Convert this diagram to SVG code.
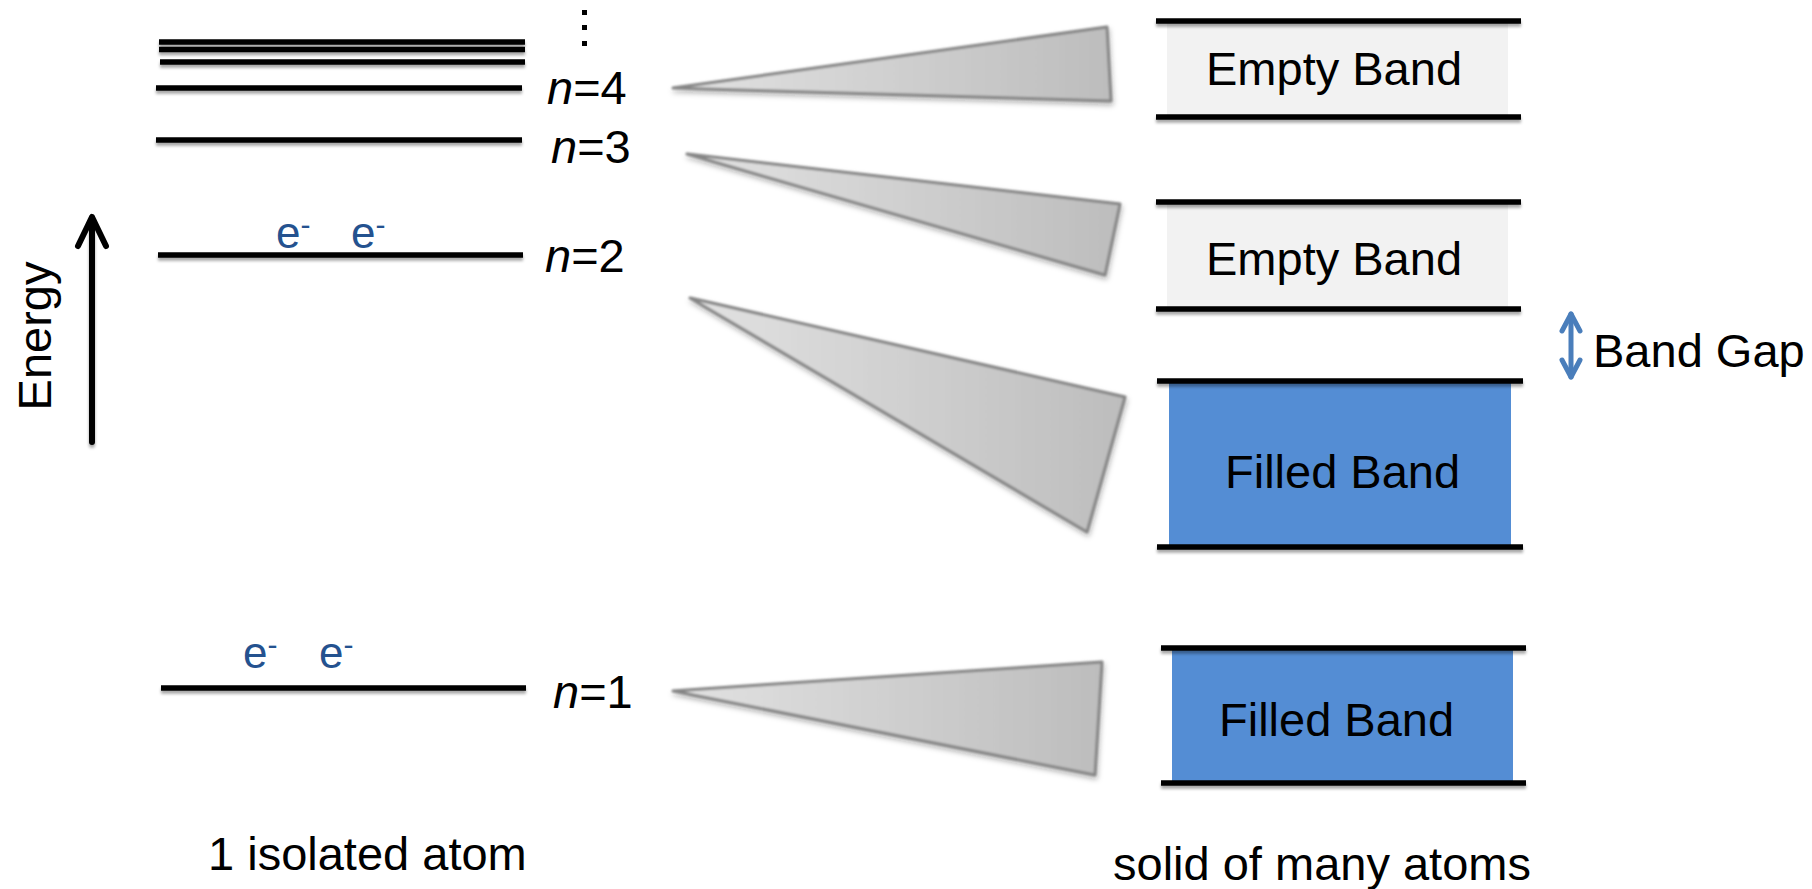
<svg xmlns="http://www.w3.org/2000/svg" width="1812" height="889" viewBox="0 0 1812 889">
<style>
text{font-family:"Liberation Sans",Arial,sans-serif;font-size:47px;fill:#000}
.lvl{stroke:#000;stroke-width:5.5;fill:none;filter:url(#ls)}
.e{fill:#24528F;font-size:44px}
.tri{fill:url(#tg);stroke:#858585;stroke-width:3;stroke-linejoin:round;filter:url(#ts)}
.empty{fill:#F2F2F2}
.filled{fill:#548DD4}
</style>
<defs>
<filter id="ls" filterUnits="userSpaceOnUse" x="0" y="0" width="1812" height="889"><feDropShadow dx="0" dy="3" stdDeviation="1.5" flood-color="#000" flood-opacity="0.35"/></filter>
<filter id="ts" x="-10%" y="-30%" width="120%" height="160%"><feGaussianBlur in="SourceGraphic" stdDeviation="0.9" result="b"/><feDropShadow in="b" dx="1" dy="3" stdDeviation="2.5" flood-color="#000" flood-opacity="0.3"/></filter>
<linearGradient id="tg" x1="0" y1="0" x2="1" y2="0"><stop offset="0" stop-color="#E2E2E2"/><stop offset="1" stop-color="#BDBDBD"/></linearGradient>
</defs>

<g id="isolated-atom">
<g id="levels-high">
<line class="lvl" x1="159" y1="42" x2="525" y2="42"/>
<line class="lvl" x1="159" y1="49.5" x2="525" y2="49.5"/>
<line class="lvl" x1="160" y1="62" x2="525" y2="62"/>
<rect x="582" y="10" width="5" height="5"/>
<rect x="582" y="25" width="5" height="5"/>
<rect x="582" y="41" width="5" height="5"/>
</g>
<g id="level-n4">
<line class="lvl" x1="156" y1="88" x2="522" y2="88"/>
<text x="547" y="104"><tspan font-style="italic">n</tspan>=4</text>
</g>
<g id="level-n3">
<line class="lvl" x1="156" y1="140" x2="522" y2="140"/>
<text x="551" y="163"><tspan font-style="italic">n</tspan>=3</text>
</g>
<g id="level-n2">
<line class="lvl" x1="158" y1="255" x2="523" y2="255"/>
<text x="545" y="272"><tspan font-style="italic">n</tspan>=2</text>
<text class="e" x="276" y="248">e<tspan font-size="30" dy="-13">-</tspan></text>
<text class="e" x="351" y="248">e<tspan font-size="30" dy="-13">-</tspan></text>
</g>
<g id="level-n1">
<line class="lvl" x1="161" y1="688" x2="526" y2="688"/>
<text x="553" y="708"><tspan font-style="italic">n</tspan>=1</text>
<text class="e" x="243" y="668">e<tspan font-size="30" dy="-13">-</tspan></text>
<text class="e" x="319" y="668">e<tspan font-size="30" dy="-13">-</tspan></text>
</g>
<g id="energy-axis">
<line x1="92" y1="442" x2="92" y2="218" stroke="#000" stroke-width="6" stroke-linecap="round" filter="url(#ls)"/>
<polyline points="78,246 92,217 106,246" fill="none" stroke="#000" stroke-width="6" stroke-linecap="round" stroke-linejoin="round"/>
<text transform="translate(51,336) rotate(-90)" text-anchor="middle" font-size="49">Energy</text>
</g>
<text id="label-atom" x="208" y="870">1 isolated atom</text>
</g>

<g id="connectors">
<polygon class="tri" points="673,88 1107,27 1111,101"/>
<polygon class="tri" points="687,154 1120,204 1105,275"/>
<polygon class="tri" points="690,298 1125,397 1087,532"/>
<polygon class="tri" points="673,691 1102,662 1095,775"/>
</g>

<g id="solid">
<g id="empty-band-1">
<rect class="empty" x="1167" y="21" width="341" height="96"/>
<line class="lvl" x1="1156" y1="21" x2="1521" y2="21"/>
<line class="lvl" x1="1156" y1="117" x2="1521" y2="117"/>
<text x="1206" y="85">Empty Band</text>
</g>
<g id="empty-band-2">
<rect class="empty" x="1167" y="202" width="341" height="107"/>
<line class="lvl" x1="1156" y1="202" x2="1521" y2="202"/>
<line class="lvl" x1="1156" y1="309" x2="1521" y2="309"/>
<text x="1206" y="275">Empty Band</text>
</g>
<g id="filled-band-1">
<rect class="filled" x="1169" y="381" width="342" height="166"/>
<line class="lvl" x1="1157" y1="381" x2="1523" y2="381"/>
<line class="lvl" x1="1157" y1="547" x2="1523" y2="547"/>
<text x="1225" y="488">Filled Band</text>
</g>
<g id="filled-band-2">
<rect class="filled" x="1172" y="648" width="341" height="135"/>
<line class="lvl" x1="1161" y1="648" x2="1526" y2="648"/>
<line class="lvl" x1="1161" y1="783" x2="1526" y2="783"/>
<text x="1219" y="736">Filled Band</text>
</g>
<g id="band-gap">
<line x1="1571" y1="314" x2="1571" y2="377" stroke="#4A7EBB" stroke-width="5" stroke-linecap="round"/>
<polyline points="1562,331 1571,314 1580,331" fill="none" stroke="#4A7EBB" stroke-width="5" stroke-linecap="round" stroke-linejoin="round"/>
<polyline points="1562,360 1571,377 1580,360" fill="none" stroke="#4A7EBB" stroke-width="5" stroke-linecap="round" stroke-linejoin="round"/>
<text x="1593" y="367">Band Gap</text>
</g>
<text id="label-solid" x="1113" y="880">solid of many atoms</text>
</g>
</svg>
